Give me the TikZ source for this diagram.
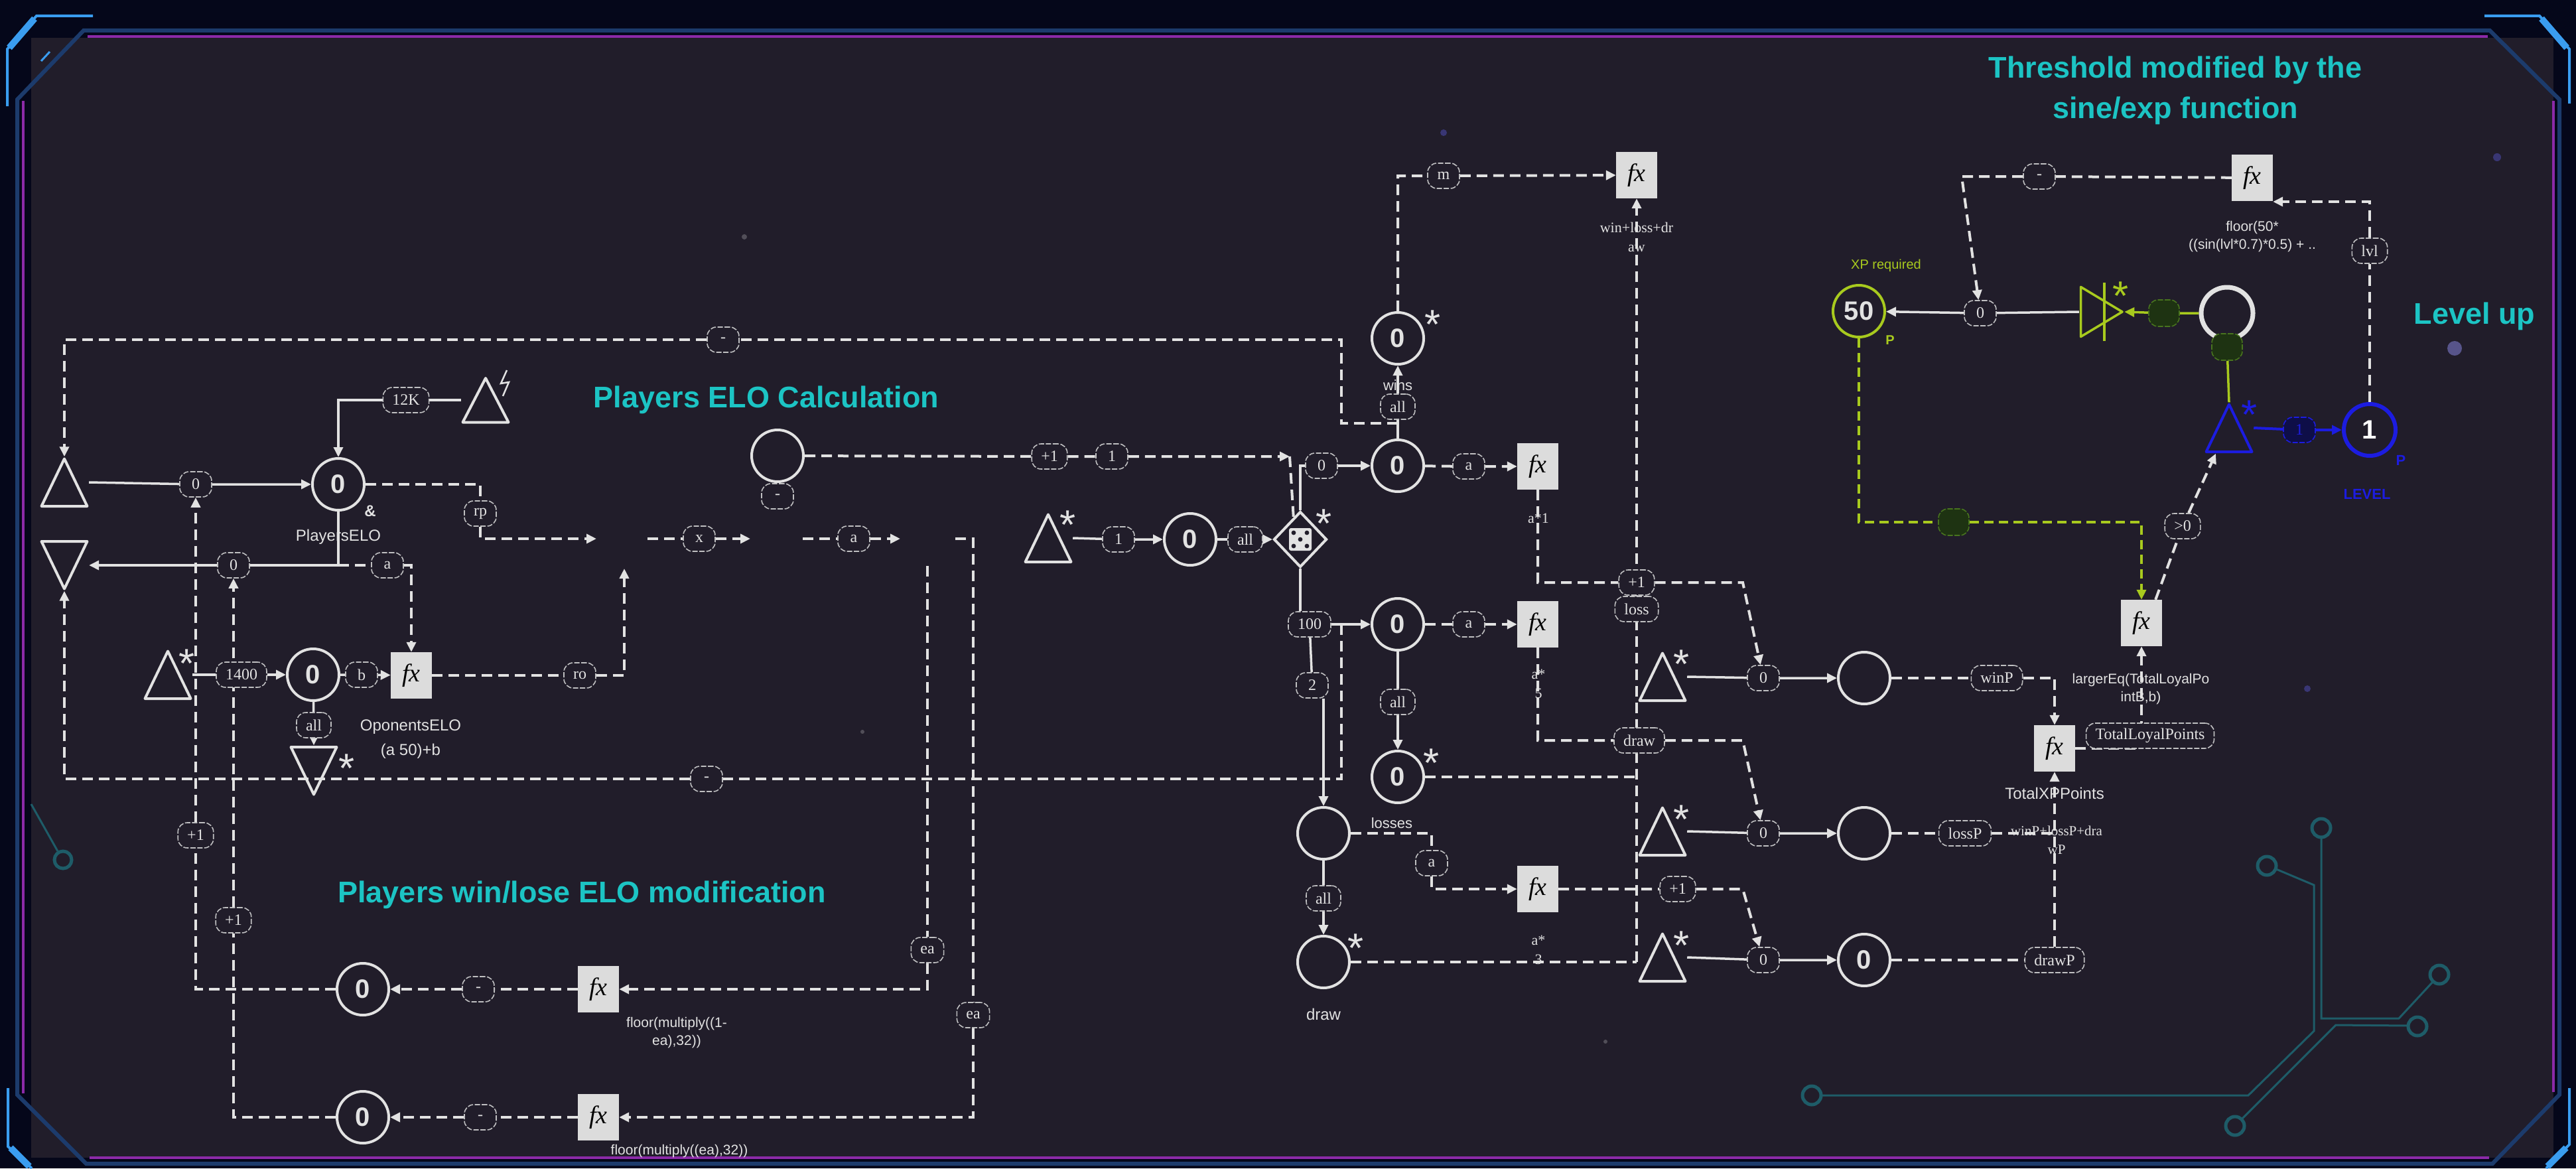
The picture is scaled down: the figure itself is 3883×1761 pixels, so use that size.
\documentclass[tikz,border=0pt]{standalone}
\usepackage{fontspec}
\setmainfont{Liberation Serif}
\setsansfont{Liberation Sans}
\usetikzlibrary{arrows.meta,shapes.geometric,calc}
\definecolor{outerbg}{HTML}{05071A}
\definecolor{panel}{HTML}{211D2A}
\definecolor{lc}{HTML}{E2E2E2}
\definecolor{fxc}{HTML}{DCDCDC}
\definecolor{cyanh}{HTML}{1CC4C4}
\definecolor{gr}{HTML}{A8CA1E}
\definecolor{grdark}{HTML}{1E3312}
\definecolor{grborder}{HTML}{48741E}
\definecolor{bl}{HTML}{1C1CE0}
\definecolor{bldark}{HTML}{0E0E48}
\definecolor{frameblue}{HTML}{1C3B6C}
\definecolor{framepurple}{HTML}{8C2AA8}
\definecolor{bright}{HTML}{3A9DF0}
\definecolor{circuit}{HTML}{1E5C68}
\pgfdeclarelayer{back}
\pgfdeclarelayer{edges}
\pgfsetlayers{back,edges,main}
\tikzset{
  wl/.style={draw=lc, line width=3.5pt},
  dl/.style={draw=lc, line width=4pt, dash pattern=on 16pt off 9pt},
  gline/.style={draw=gr, line width=3.5pt, dash pattern=on 14pt off 8pt},
  gsolid/.style={draw=gr, line width=3.5pt},
  bline/.style={draw=bl, line width=4pt},
  arrowhd/.style={-{Triangle[length=15pt,width=14pt]}},
  lbl/.style={draw=lc!82!panel, fill=panel, line width=1.6pt, dash pattern=on 8pt off 2.5pt, rounded corners=14pt, minimum width=48pt, minimum height=38pt, inner xsep=14pt, inner ysep=4pt, text=lc, font=\fontsize{24}{26}\selectfont},
  glbl/.style={lbl, draw=grborder, fill=grdark, minimum width=46pt, minimum height=40pt},
  blbl/.style={lbl, draw=bl, fill=bldark, text=bl},
  cnode/.style={circle, draw=lc, line width=4pt, fill=panel, minimum size=78pt, inner sep=0pt, text=lc, font=\sffamily\bfseries\fontsize{40}{44}\selectfont},
  fxb/.style={rectangle, fill=fxc, minimum width=62pt, minimum height=70pt, inner sep=0pt, text=black, font=\fontsize{38}{40}\selectfont\itshape},
  tri/.style={rectangle, minimum width=74pt, minimum height=77pt, inner sep=0pt, path picture={\draw[line width=4pt, draw=#1, line join=round] ([shift={(2.5pt,2.5pt)}]path picture bounding box.south west) -- ([yshift=-3pt]path picture bounding box.north) -- ([shift={(-2.5pt,2.5pt)}]path picture bounding box.south east) -- cycle;}},
  tri/.default=lc,
  trid/.style={rectangle, minimum width=74pt, minimum height=77pt, inner sep=0pt, path picture={\draw[line width=4pt, draw=lc, line join=round] ([shift={(2.5pt,-2.5pt)}]path picture bounding box.north west) -- ([yshift=3pt]path picture bounding box.south) -- ([shift={(-2.5pt,-2.5pt)}]path picture bounding box.north east) -- cycle;}},
  trir/.style={rectangle, minimum width=68pt, minimum height=80pt, inner sep=0pt, path picture={\draw[line width=3.5pt, draw=gr, line join=round] ([shift={(2.5pt,2.5pt)}]path picture bounding box.south west) -- ([xshift=-3pt]path picture bounding box.east) -- ([shift={(2.5pt,-2.5pt)}]path picture bounding box.north west) -- cycle;}},
  captxt/.style={text=lc, inner sep=0pt, font=\sffamily\fontsize{24}{26}\selectfont},
  ftxt/.style={text=lc, inner sep=0pt, align=center, font=\sffamily\fontsize{21}{27}\selectfont},
  stxt/.style={text=lc, inner sep=0pt, align=center, font=\fontsize{22}{29}\selectfont},
  headtxt/.style={text=cyanh, inner sep=0pt, align=center, font=\sffamily\bfseries\fontsize{45}{61}\selectfont},
  starf/.style={text=lc, inner sep=0pt, anchor=north, font=\sffamily\fontsize{62}{62}\selectfont},
}
\begin{document}
\begin{tikzpicture}[x=1pt,y=-1pt]
\useasboundingbox (0,0) rectangle (3883,1761);
% ================= background & frame =================
\begin{pgfonlayer}{back}
\fill[outerbg] (0,0) rectangle (3883,1761);
\fill[panel] (47,57) rectangle (3849,1745);
\draw[frameblue, line width=6pt] (26,150) -- (126,46) -- (3753,46) -- (3858,150) -- (3858,1650) -- (3757,1754) -- (130,1754) -- (26,1650) -- cycle;
\draw[framepurple, line width=3.5pt] (132,55) -- (3750,55);
\draw[framepurple, line width=3.5pt] (35,152) -- (35,1648);
\draw[framepurple, line width=3.5pt] (3849,152) -- (3849,1646);
\draw[framepurple, line width=3.5pt] (135,1745) -- (3752,1745);
\draw[bright, line width=4pt] (11,160) -- (11,74) -- (55,24) -- (140,24);
\draw[bright, line width=10pt] (14,72) -- (52,28);
\draw[bright, line width=3pt] (62,92) -- (75,78);
\draw[bright, line width=4pt] (3745,24) -- (3828,24) -- (3873,74) -- (3873,156);
\draw[bright, line width=10pt] (3831,28) -- (3869,72);
\draw[bright, line width=4pt] (3873,1640) -- (3873,1725) -- (3838,1761);
\draw[bright, line width=10pt] (3868,1730) -- (3840,1758);
\draw[bright, line width=4pt] (12,1640) -- (12,1728) -- (48,1761);
\draw[bright, line width=10pt] (16,1730) -- (44,1758);
% circuits
\draw[circuit, line width=3pt] (3499,1263) -- (3499,1535) -- (3616,1535) -- (3667,1480);
\draw[circuit, line width=3pt] (3431,1310) -- (3488,1334) -- (3488,1554) -- (3389,1651) -- (2745,1651);
\draw[circuit, line width=3pt] (3630,1546) -- (3521,1545) -- (3380,1686);
\draw[circuit, line width=5pt] (3499,1248) circle (14pt) (3417,1305) circle (14pt) (3677,1469) circle (14pt) (3644,1547) circle (14pt) (3369,1697) circle (14pt) (2731,1651) circle (14pt);
\draw[circuit, line width=3pt] (47,1212) -- (87,1283);
\draw[circuit, line width=5pt] (95,1296) circle (13pt);
% faint dots
\fill[white, opacity=0.22] (1122,357) circle (4pt) (1300,1103) circle (3pt) (2420,1570) circle (3pt);
\fill[blue!60!white, opacity=0.35] (2176,200) circle (5pt) (3764,237) circle (6pt) (3478,1038) circle (5pt);
\fill[blue!40!white, opacity=0.45] (3700,525) circle (11pt);
\end{pgfonlayer}

% ================= headings =================
\node[headtxt] at (1155,603) {Players ELO Calculation};
\node[headtxt] at (877,1349) {Players win/lose ELO modification};
\node[headtxt] at (3279,136) {Threshold modified by the\\sine/exp function};
\node[headtxt] at (3730,477) {Level up};

% ================= left: ELO calculation =================
\node[tri] (tU1) at (97,727) {};
\node[trid] (tD1) at (97,852) {};
\node[cnode] (cPE) at (510,730) {0};
\node[text=lc, inner sep=0pt, font=\sffamily\bfseries\fontsize{24}{26}\selectfont] at (558,770) {\&};
\node[captxt] at (510,809) {PlayersELO};
\node[tri, minimum height=72pt] (tL) at (732,603) {};
\draw[lc, line width=2.5pt] (764,558) -- (755,578) -- (767,576) -- (758,597);
\node[lbl] (l12K) at (612,603) {12K};
\node[lbl] (l0a) at (295,730) {0};
\node[lbl] (lrp) at (724,774) {rp};
\node[lbl] (l0b) at (352,852) {0};
\node[lbl] (la1) at (584,852) {a};
\node[fxb] (fx1) at (620,1018) {fx};
\node[tri] (tU2) at (253,1017) {};
\node[starf] at (282,979) {*};
\node[lbl] (l1400) at (364,1017) {1400};
\node[cnode] (cOE) at (472,1017) {0};
\node[lbl] (lb) at (545,1017) {b};
\node[captxt] at (619,1096) {OponentsELO};
\node[captxt] at (619,1132) {(a 50)+b};
\node[lbl] (lall1) at (473,1093) {all};
\node[trid] (tD2) at (473,1162) {};
\node[starf] at (523,1137) {*};
\node[lbl] (lro) at (874,1018) {ro};
\coordinate (h1) at (899,812);
\coordinate (h1up) at (941,857);
\coordinate (h2s) at (976,812);
\coordinate (h2e) at (1131,812);
\coordinate (h3s) at (1210,812);
\coordinate (h3e) at (1357,812);
\coordinate (h4s) at (1440,812);
\coordinate (vD) at (1467,812);
\coordinate (vC) at (1398,853);
\node[lbl] (lx) at (1054,812) {x};
\node[lbl] (la2) at (1287,812) {a};
\node[lbl] (lea1) at (1398,1432) {ea};
\node[lbl] (lea2) at (1467,1530) {ea};
\coordinate (jP) at (510,852);

% ================= win/lose modification =================
\node[cnode] (cW) at (547,1491) {0};
\node[lbl] (lmW) at (721,1491) {-};
\node[fxb] (fxW) at (902,1491) {fx};
\node[ftxt] at (1020,1557) {floor(multiply((1-\\ea),32))};
\node[cnode] (cL) at (547,1684) {0};
\node[lbl] (lmL) at (724,1684) {-};
\node[fxb] (fxL) at (902,1684) {fx};
\node[ftxt] at (1024,1735) {floor(multiply((ea),32))};
\node[lbl] (lp1a) at (295,1259) {+1};
\node[lbl] (lp1b) at (352,1387) {+1};
\node[lbl] (ltop) at (1090,512) {-};
\node[lbl] (lbot) at (1065,1174) {-};

% ================= middle =================
\node[cnode] (cBig) at (1172,687) {};
\node[lbl] (ldot) at (1172,748) {-};
\node[lbl] (lp1c) at (1582,688) {+1};
\node[lbl] (l1b) at (1676,688) {1};
\coordinate (kc) at (1944,688);
\coordinate (kd) at (1950,783);
\node[tri] (tU3) at (1580,811) {};
\node[starf] at (1610,770) {*};
\node[lbl] (l1c) at (1686,813) {1};
\node[cnode] (cR) at (1794,813) {0};
\node[lbl] (lall2) at (1877,813) {all};
\node[diamond, draw=lc, line width=4pt, fill=panel, minimum width=80pt, minimum height=84pt, inner sep=0pt] (dia) at (1960,813) {};
\fill[lc, rounded corners=3pt] (1943,796) rectangle (1977,830);
\fill[panel] (1950,803) circle (3.4pt) (1970,803) circle (3.4pt) (1960,813) circle (3.4pt) (1950,823) circle (3.4pt) (1970,823) circle (3.4pt);
\node[starf] at (1996,768) {*};
\node[lbl] (l0c) at (1992,702) {0};
\node[cnode] (cWin) at (2107,702) {0};
\node[lbl] (la3) at (2214,703) {a};
\node[fxb] (fxWin) at (2318,703) {fx};
\node[captxt, font=\sffamily\fontsize{22}{24}\selectfont] at (2107,581) {wins};
\node[lbl] (lall3) at (2107,613) {all};
\node[cnode] (cWinS) at (2107,510) {0};
\node[starf] at (2160,468) {*};
\coordinate (jW) at (2107,638);
\node[lbl] (lm) at (2176,265) {m};
\node[fxb] (fxSum) at (2467,264) {fx};
\node[stxt] at (2467,357) {win+loss+dr\\aw};
\coordinate (eB) at (2467,1450);
\node[lbl] (lloss) at (2467,918) {loss};
\node[lbl] (lp1d) at (2467,878) {+1};
\node[lbl] (ldraw) at (2471,1116) {draw};
\node[lbl] (l100) at (1974,941) {100};
\node[cnode] (cLoss) at (2107,941) {0};
\coordinate (jL) at (2022,941);
\node[lbl] (l2) at (1978,1033) {2};
\node[cnode] (cE) at (1995,1256) {};
\node[lbl] (la4) at (2214,941) {a};
\node[fxb] (fxLoss) at (2318,941) {fx};
\node[lbl] (lall4) at (2107,1058) {all};
\node[cnode] (cLossS) at (2107,1171) {0};
\node[starf] at (2158,1129) {*};
\node[captxt, font=\sffamily\fontsize{22}{24}\selectfont] at (2098,1241) {losses};
\node[lbl] (la5) at (2158,1301) {a};
\node[fxb] (fxLs) at (2318,1340) {fx};
\node[stxt] at (2319,1432) {a*\\3};
\node[lbl] (lall5) at (1995,1354) {all};
\node[cnode] (cD) at (1995,1450) {};
\node[starf] at (2044,1408) {*};
\node[captxt] at (1995,1529) {draw};
\node[stxt] at (2319,781) {a*1};
\node[stxt] at (2319,1031) {a*\\5};
\node[lbl] (lp1e) at (2529,1340) {+1};
\coordinate (k1) at (2627,878);
\coordinate (k2) at (2627,1116);
\coordinate (k3) at (2627,1340);

% ================= right rows =================
\node[tri] (tR1) at (2506,1020) {};
\node[starf] at (2535,980) {*};
\node[tri] (tR2) at (2506,1253) {};
\node[starf] at (2535,1214) {*};
\node[tri] (tR3) at (2506,1443) {};
\node[starf] at (2535,1404) {*};
\node[lbl] (lr1) at (2658,1022) {0};
\node[lbl] (lr2) at (2658,1256) {0};
\node[lbl] (lr3) at (2658,1447) {0};
\node[cnode] (cP1) at (2810,1022) {};
\node[cnode] (cP2) at (2810,1256) {};
\node[cnode] (cP3) at (2810,1447) {0};
\node[lbl] (lwinP) at (3010,1022) {winP};
\node[lbl] (llossP) at (2962,1256) {lossP};
\node[lbl] (ldrawP) at (3097,1447) {drawP};
\node[fxb] (fxT) at (3097,1128) {fx};
\node[captxt] at (3097,1196) {TotalXPPoints};
\node[stxt, font=\fontsize{21}{28}\selectfont] at (3100,1266) {winP+lossP+dra\\wP};
\node[fxb] (fxGE) at (3228,939) {fx};
\node[lbl] (lTLP) at (3241,1109) {TotalLoyalPoints};
\node[ftxt] at (3227,1039) {largerEq(TotalLoyalPo\\intB,b)};

% ================= level up =================
\node[cnode, draw=gr] (c50) at (2802,469) {50};
\node[text=gr, inner sep=0pt, font=\sffamily\fontsize{20}{22}\selectfont] at (2843,400) {XP required};
\node[text=gr, inner sep=0pt, font=\sffamily\bfseries\fontsize{20}{22}\selectfont] at (2849,513) {P};
\node[glbl] (lg1) at (2945,787) {};
\node[lbl] (lgt0) at (3290,793) {>0};
\node[tri=bl] (tB) at (3360,645) {};
\node[starf, text=bl] at (3391,604) {*};
\node[blbl] (lb1) at (3466,648) {1};
\node[cnode, draw=bl, line width=6pt, text=white] (cLv) at (3572,648) {1};
\node[text=bl, inner sep=0pt, font=\sffamily\bfseries\fontsize{22}{24}\selectfont] at (3619,694) {P};
\node[text=bl, inner sep=0pt, font=\sffamily\bfseries\fontsize{22}{24}\selectfont] at (3568,745) {LEVEL};
\node[lbl] (llvl) at (3572,378) {lvl};
\node[fxb] (fxTh) at (3395,268) {fx};
\node[ftxt] at (3395,357) {floor(50*\\((sin(lvl*0.7)*0.5) + ..};
\coordinate (thc) at (3572,304);
\node[lbl] (ldt) at (3074,266) {-};
\coordinate (tk) at (2957,266);
\node[lbl] (lr0t) at (2985,472) {0};
\node[trir] (gT) at (3168,470) {};
\draw[gr, line width=3.5pt] (3172,426) -- (3172,514);
\node[starf, text=gr] at (3197,425) {*};
\node[cnode, line width=7pt] (cRing) at (3357,472) {};
\node[glbl] (lgd1) at (3262,472) {};
\node[glbl] (lgd2) at (3357,523) {};

% ================= connectors =================
\begin{pgfonlayer}{edges}
\draw[wl,arrowhd] (tU1.east) -- (l0a) -- (cPE);
\draw[wl,arrowhd] (tL.west) -- (l12K) -- (l12K -| cPE) -- (cPE);
\draw[dl] (cPE) -- (cPE -| lrp) -- (lrp);
\draw[dl,arrowhd] (lrp) -- (lrp |- h1) -- (h1);
\draw[wl] (cPE) -- (jP);
\draw[wl,arrowhd] (jP) -- (l0b) -- (tD1.east);
\draw[dl,arrowhd] (jP) -- (la1) -- (la1 -| fx1) -- (fx1);
\draw[wl,arrowhd] (tU2.east) -- (l1400) -- (cOE);
\draw[wl,arrowhd] (cOE) -- (lb) -- (fx1);
\draw[wl,arrowhd] (cOE) -- (lall1) -- (tD2.north);
\draw[dl,arrowhd] (fx1) -- (lro) -- (lro -| h1up) -- (h1up);
\draw[dl,arrowhd] (h2s) -- (lx) -- (h2e);
\draw[dl,arrowhd] (h3s) -- (la2) -- (h3e);
\draw[dl,arrowhd] (h4s) -- (vD) -- (lea2) -- (lea2 |- fxL) -- (fxL);
\draw[dl,arrowhd] (vC) -- (lea1) -- (lea1 |- fxW) -- (fxW);
\draw[dl,arrowhd] (fxW) -- (lmW) -- (cW);
\draw[dl,arrowhd] (fxL) -- (lmL) -- (cL);
\draw[dl,arrowhd] (cW) -- (cW -| lp1a) -- (lp1a) -- (l0a);
\draw[dl,arrowhd] (cL) -- (cL -| lp1b) -- (lp1b) -- (l0b);
\draw[dl,arrowhd] (jW) -- (jW -| jL) -- (jL |- ltop) -- (ltop) -- (ltop -| tU1) -- (tU1.north);
\draw[dl,arrowhd] (jL) -- (jL |- lbot) -- (lbot) -- (lbot -| tD1) -- (tD1.south);
% middle
\draw[dl,arrowhd] (cBig) -- (lp1c) -- (l1b) -- (kc);
\draw[dl] (kc) -- (kd);
\draw[wl,arrowhd] (tU3.east) -- (l1c) -- (cR);
\draw[wl,arrowhd] (cR) -- (lall2) -- (dia);
\draw[wl] (dia.north) |- (l0c.west);
\draw[wl,arrowhd] (l0c) -- (cWin);
\draw[dl,arrowhd] (cWin) -- (la3) -- (fxWin);
\draw[wl,arrowhd] (cWin) -- (lall3) -- (cWinS);
\draw[dl,arrowhd] (cWinS) -- (cWinS |- lm) -- (lm) -- (fxSum);
\draw[dl,arrowhd] (eB) -- (fxSum);
\draw[wl] (dia.south) -- (dia.south |- l100.north);
\draw[wl,arrowhd] (l100) -- (cLoss);
\draw[wl] (l100) -- (l2);
\draw[wl,arrowhd] (l2.south -| cE) -- (cE);
\draw[dl,arrowhd] (cLoss) -- (la4) -- (fxLoss);
\draw[wl,arrowhd] (cLoss) -- (lall4) -- (cLossS);
\draw[dl] (cLossS) -- (cLossS -| eB);
\draw[dl,arrowhd] (cE) -- (cE -| la5) -- (la5) -- (la5 |- fxLs) -- (fxLs);
\draw[wl,arrowhd] (cE) -- (lall5) -- (cD);
\draw[dl] (cD) -- (eB);
\draw[dl,arrowhd] (fxWin) -- (fxWin |- lp1d) -- (lp1d) -- (k1) -- (lr1);
\draw[dl,arrowhd] (fxLoss) -- (fxLoss |- ldraw) -- (ldraw) -- (k2) -- (lr2);
\draw[dl,arrowhd] (fxLs) -- (lp1e) -- (k3) -- (lr3);
% right rows
\draw[wl,arrowhd] (tR1.east) -- (lr1) -- (cP1);
\draw[wl,arrowhd] (tR2.east) -- (lr2) -- (cP2);
\draw[wl,arrowhd] (tR3.east) -- (lr3) -- (cP3);
\draw[dl,arrowhd] (cP1) -- (lwinP) -- (lwinP -| fxT) -- (fxT);
\draw[dl] (cP2) -- (llossP) -- (llossP -| fxT);
\draw[dl] (cP3) -- (ldrawP);
\draw[dl,arrowhd] (ldrawP) -- (fxT);
\draw[dl,arrowhd] (fxT) -- (fxT -| fxGE) -- (fxGE);
% level up
\draw[gline,arrowhd] (c50) -- (c50 |- lg1) -- (lg1) -- (lg1 -| fxGE) -- (fxGE);
\draw[dl] ([xshift=-10pt]fxGE.north east) -- (lgt0);
\draw[dl,arrowhd] (lgt0) -- ([xshift=-20pt]tB.south);
\draw[bline,arrowhd] (tB.east) -- (lb1) -- (cLv);
\draw[dl,arrowhd] (cLv) -- (llvl) -- (thc) -- (thc -| fxTh.east);
\draw[dl,arrowhd] (fxTh) -- (ldt) -- (tk) -- (lr0t);
\draw[wl,arrowhd] (gT.west) -- (lr0t) -- (c50);
\draw[gsolid,arrowhd] (cRing) -- (lgd1) -- (gT.east);
\draw[gsolid] (lgd2) -- (tB.north);
\end{pgfonlayer}
\end{tikzpicture}
\end{document}
